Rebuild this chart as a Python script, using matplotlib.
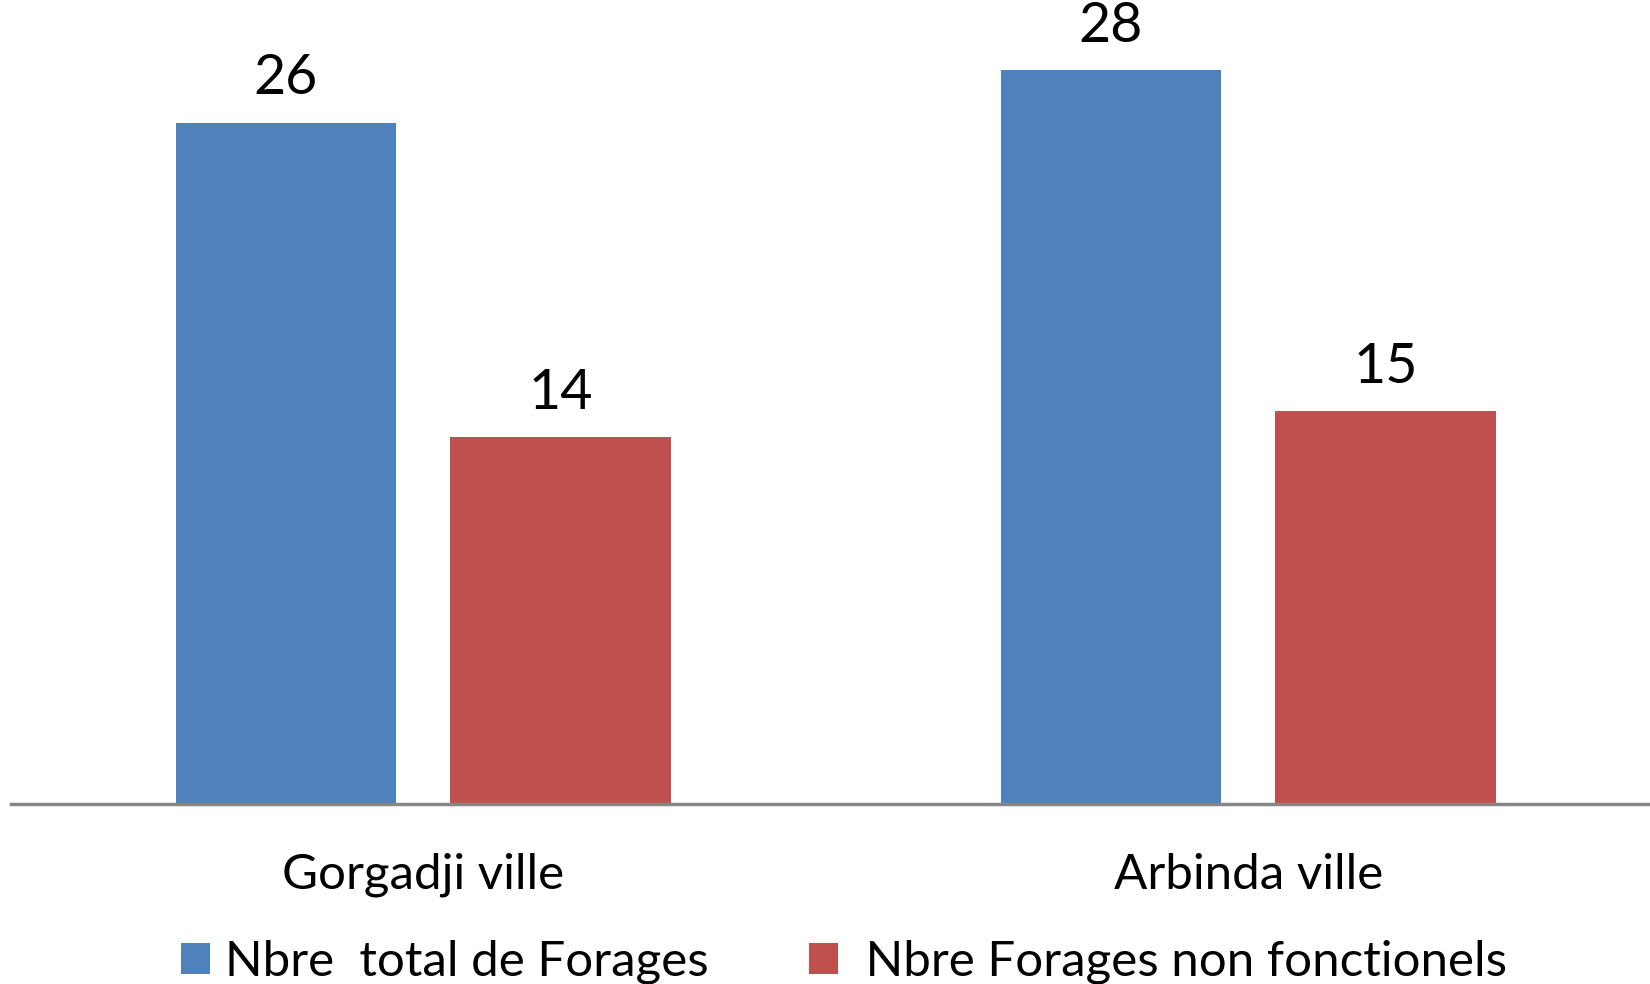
import matplotlib
matplotlib.use("Agg")
import matplotlib.pyplot as plt
import numpy as np

plt.rcParams['font.family'] = ['Lato', 'DejaVu Sans']

categories = ['Gorgadji ville', 'Arbinda ville']
series_names = ['Nbre  total de Forages', ' Nbre Forages non fonctionels']
total = [26, 28]
non_fonct = [14, 15]
colors = ['#4F81BD', '#C0504D']

fig = plt.figure(figsize=(16.5, 9.84), dpi=100)
ax = fig.add_axes([0.0, 1 - 804 / 984, 1.0, 804 / 984])

x = np.arange(len(categories))
w = 0.267
off = 0.1664
b1 = ax.bar(x - off, total, w, color=colors[0], label=series_names[0])
b2 = ax.bar(x + off, non_fonct, w, color=colors[1], label=series_names[1])

for bars in (b1, b2):
    for r in bars:
        ax.annotate(str(int(r.get_height())), (r.get_x() + r.get_width() / 2, r.get_height()),
                    xytext=(0, 20.5), textcoords='offset points', ha='center', va='baseline',
                    fontsize=40)

ax.set_xlim(-0.513, 1.487)
ax.set_ylim(0, 804 / 26.2)
ax.set_xticks(x)
ax.set_xticklabels(categories, fontsize=35.5)
ax.tick_params(axis='x', length=0, pad=35)
ax.set_yticks([])
for s in ['top', 'right', 'left']:
    ax.spines[s].set_visible(False)
ax.spines['bottom'].set_color('#868686')
ax.spines['bottom'].set_linewidth(2.5)
ax.spines['bottom'].set_bounds(-0.5, 1.487)

fig.legend(handles=[b1, b2], loc='center', bbox_to_anchor=(0.5115, 1 - 962 / 984),
           ncol=2, frameon=False, fontsize=35.5, handlelength=0.6, handleheight=0.6,
           handletextpad=0.3, columnspacing=2.03)

fig.savefig('out.png', dpi=100)
